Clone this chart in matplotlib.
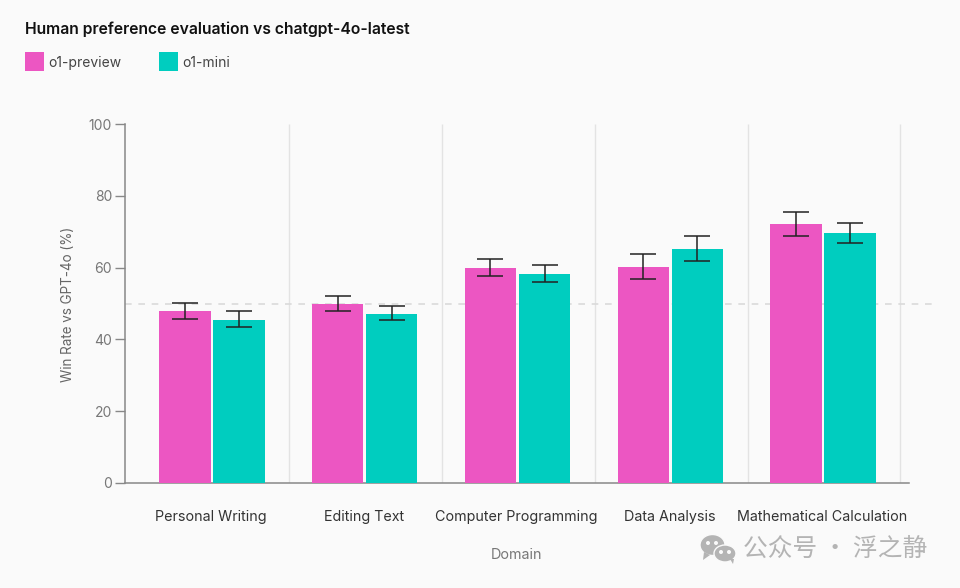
import numpy as np
import matplotlib
matplotlib.use('Agg')
import matplotlib.pyplot as plt
from matplotlib.patches import Rectangle, Ellipse, Polygon

domains = ['Personal Writing', 'Editing Text', 'Computer Programming', 'Data Analysis', 'Mathematical Calculation']
preview = [47.8, 49.9, 59.8, 60.2, 72.2]
preview_low = [45.8, 48.0, 57.7, 56.8, 68.8]
preview_high = [50.1, 52.1, 62.3, 63.8, 75.5]
mini = [45.5, 47.2, 58.2, 65.2, 69.5]
mini_low = [43.5, 45.3, 56.0, 61.8, 66.8]
mini_high = [48.0, 49.3, 60.7, 68.7, 72.4]
yticks = [0, 20, 40, 60, 80, 100]

PINK = '#EC56C2'
TEAL = '#00CDBF'
BG = '#FAFAFA'
W, H = 960, 588

plt.rcParams['font.family'] = ['Inter', 'DejaVu Sans']


def fx(px):
    return px / W


def fy(px):
    return 1 - px / H


fig = plt.figure(figsize=(9.6, 5.88), dpi=100, facecolor=BG)
ax = fig.add_axes([fx(125), fy(483), fx(909 - 125), (483 - 124) / H], facecolor=BG)

x = np.arange(len(domains))
offset = 0.177
width = 0.335
err_kw = dict(ecolor='#222222', elinewidth=1.1, capsize=9.3, capthick=1.1)

for xs, vals, low, high, color in [(x - offset, preview, preview_low, preview_high, PINK),
                                   (x + offset, mini, mini_low, mini_high, TEAL)]:
    vals = np.array(vals)
    yerr = [vals - np.array(low), np.array(high) - vals]
    ax.bar(xs, vals, width=width, color=color, edgecolor='none', yerr=yerr, error_kw=err_kw, zorder=3)

# category separators
ax.vlines(x + 0.506, 0, 100, color='#E3E3E3', lw=1, zorder=1)
# 50% reference line runs past the axis on the right
ax.plot([-0.57, 4.72], [50, 50], color='#DADADA', lw=1.2, dashes=(4, 4), clip_on=False, zorder=2)

ax.set_xlim(-0.5696, 4.563)
ax.set_ylim(0, 100)
ax.set_yticks(yticks)
ax.set_xticks(x - 0.005)
ax.set_xticklabels(domains)
ax.tick_params(axis='x', length=0, pad=19.5, labelsize=10.3, labelcolor='#333333')
ax.tick_params(axis='y', length=7.5, width=1, color='#888888', pad=1.8, labelsize=10, labelcolor='#777777')
for side in ['top', 'right']:
    ax.spines[side].set_visible(False)
for side in ['left', 'bottom']:
    ax.spines[side].set_color('#888888')
    ax.spines[side].set_linewidth(1.1)

fig.text(fx(68), fy(304), 'Win Rate vs GPT-4o (%)', rotation=90, ha='center', va='center',
         fontsize=9.7, color='#666666')
fig.text(fx(516), fy(555), 'Domain', ha='center', va='center', fontsize=10.3, color='#777777')

fig.text(fx(25), fy(29), 'Human preference evaluation vs chatgpt-4o-latest', ha='left', va='center',
         fontsize=11.3, fontweight='semibold', color='#111111')

# legend
for left, label, color in [(25, 'o1-preview', PINK), (159, 'o1-mini', TEAL)]:
    fig.add_artist(Rectangle((fx(left), fy(71)), 19 / W, 19 / H, transform=fig.transFigure,
                             facecolor=color, edgecolor='none'))
    fig.text(fx(left + 23.5), fy(63), label, ha='left', va='center', fontsize=10, color='#444444')

# watermark
GRAY = '#B4B4B4'
for cx, cy, ew, eh, tail in [(712.5, 545, 25, 21, [(704, 552), (710, 555), (703, 560)]),
                             (725, 553.5, 22, 17, [(730, 559), (734, 559), (733, 564)])]:
    fig.add_artist(Ellipse((fx(cx), fy(cy)), ew / W, eh / H, transform=fig.transFigure,
                           facecolor=GRAY, edgecolor=BG, lw=1))
    fig.add_artist(Polygon([(fx(a), fy(b)) for a, b in tail], transform=fig.transFigure,
                           facecolor=GRAY, edgecolor='none'))
for cx, cy in [(708, 543), (716, 543), (721, 552), (729, 552)]:
    fig.add_artist(Ellipse((fx(cx), fy(cy)), 4 / W, 4 / H, transform=fig.transFigure,
                           facecolor=BG, edgecolor='none'))
fig.text(fx(743), fy(549), '公众号 · 浮之静', ha='left', va='center', fontsize=17.8, color=GRAY,
         family=['Noto Sans CJK SC', 'DejaVu Sans'])

fig.savefig('out.png', dpi=100, facecolor=BG)
